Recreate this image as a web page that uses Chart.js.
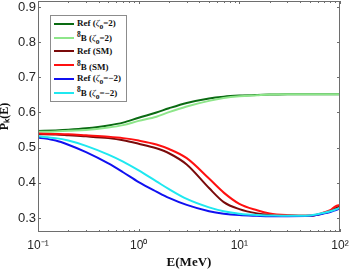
<!DOCTYPE html>
<html>
<head>
<meta charset="utf-8">
<script src="https://cdn.jsdelivr.net/npm/chart.js@4/dist/chart.umd.min.js"></script>
<style>
  html, body { margin: 0; padding: 0; background: #fff; }
  #wrap { position: relative; width: 350px; height: 270px; }
  #legendBox {
    position: absolute; left: 50px; top: 15px; width: 77px; height: 87px;
    border: 1px solid #8c8c8c; background: #fff; box-sizing: border-box;
    font-family: 'Liberation Serif', serif; font-size: 9px; color: #111; padding-top: 1px;
  }
  .row { height: 13.8px; display: flex; align-items: center; white-space: nowrap; font-weight: bold; }
  .swatch { width: 20px; height: 2px; margin-left: 3px; margin-right: 3px; flex: none; }
  .row i { font-weight: normal; }
</style>
</head>
<body>
<div id="wrap">
  <canvas id="chart" width="350" height="270"></canvas>
  <div id="legendBox"></div>
</div>
<script>
const energy = [0.1, 0.15, 0.2, 0.3, 0.5, 0.7, 1, 1.5, 2, 3, 5, 7, 10, 15, 20, 30, 50, 70, 80, 90, 100];

const refPlus  = [0.547, 0.549, 0.551, 0.555, 0.563, 0.571, 0.585, 0.600, 0.612, 0.627, 0.640, 0.645, 0.648, 0.650, 0.651, 0.652, 0.652, 0.652, 0.652, 0.652, 0.652];
const b8Plus   = [0.545, 0.546, 0.548, 0.550, 0.557, 0.564, 0.576, 0.588, 0.601, 0.617, 0.633, 0.641, 0.646, 0.649, 0.651, 0.652, 0.652, 0.652, 0.652, 0.652, 0.652];
const refSM    = [0.538, 0.537, 0.535, 0.532, 0.527, 0.521, 0.511, 0.498, 0.484, 0.452, 0.385, 0.345, 0.325, 0.313, 0.309, 0.307, 0.306, 0.314, 0.319, 0.327, 0.334];
const b8SM     = [0.540, 0.539, 0.538, 0.535, 0.531, 0.527, 0.520, 0.509, 0.496, 0.470, 0.412, 0.372, 0.340, 0.322, 0.313, 0.308, 0.306, 0.316, 0.322, 0.333, 0.337];
const refMinus = [0.529, 0.520, 0.508, 0.487, 0.455, 0.430, 0.402, 0.375, 0.357, 0.337, 0.319, 0.312, 0.308, 0.306, 0.305, 0.305, 0.306, 0.313, 0.317, 0.322, 0.327];
const b8Minus  = [0.532, 0.527, 0.520, 0.505, 0.480, 0.460, 0.435, 0.404, 0.382, 0.354, 0.330, 0.319, 0.312, 0.308, 0.307, 0.306, 0.307, 0.315, 0.319, 0.324, 0.329];

const seriesNames = ['Ref (<i>ζ</i><sub>o</sub>=2)', '<sup>8</sup>B (<i>ζ</i><sub>o</sub>=2)', 'Ref (SM)', '<sup>8</sup>B (SM)', 'Ref (<i>ζ</i><sub>o</sub>=−2)', '<sup>8</sup>B (<i>ζ</i><sub>o</sub>=−2)'];
const seriesValues = [refPlus, b8Plus, refSM, b8SM, refMinus, b8Minus];
const seriesColors = ['#0a6b12', '#8ee68a', '#7a0a0a', '#ff1010', '#1010f0', '#1fe8f0'];

const xTicks = [0.1, 1, 10, 100];
const xTickLabels = ['10⁻¹', '10⁰', '10¹', '10²'];
const yTicks = [0.3, 0.4, 0.5, 0.6, 0.7, 0.8, 0.9];

const axisColor = '#6e6e6e';

// frame + inward MATLAB-style tick marks
const framePlugin = {
  id: 'frame',
  afterDatasetsDraw(chart) {
    const { ctx, chartArea: a, scales: { x, y } } = chart;
    ctx.save();
    ctx.strokeStyle = axisColor;
    ctx.lineWidth = 1;
    ctx.strokeRect(a.left + 0.5, a.top + 0.5, a.width - 1, a.height - 1);
    ctx.beginPath();
    yTicks.forEach(v => {
      const py = Math.round(y.getPixelForValue(v)) + 0.5;
      ctx.moveTo(a.left, py); ctx.lineTo(a.left + 3, py);
      ctx.moveTo(a.right, py); ctx.lineTo(a.right - 3, py);
    });
    xTicks.forEach(v => {
      const px = Math.round(x.getPixelForValue(v)) + 0.5;
      ctx.moveTo(px, a.bottom); ctx.lineTo(px, a.bottom - 3);
      ctx.moveTo(px, a.top); ctx.lineTo(px, a.top + 3);
    });
    [0.1, 1, 10].forEach(d => {
      for (let m = 2; m < 10; m++) {
        const px = Math.round(x.getPixelForValue(d * m)) + 0.5;
        ctx.moveTo(px, a.bottom); ctx.lineTo(px, a.bottom - 2);
        ctx.moveTo(px, a.top); ctx.lineTo(px, a.top + 2);
      }
    });
    ctx.stroke();
    ctx.restore();
  }
};

const datasets = seriesValues.map((vals, i) => ({
  label: seriesNames[i].replace(/<[^>]+>/g, ''),
  data: energy.map((e, k) => ({ x: e, y: vals[k] })),
  borderColor: seriesColors[i],
  backgroundColor: seriesColors[i],
  borderWidth: 2,
  pointRadius: 0,
  showLine: true,
  cubicInterpolationMode: 'monotone',
  order: 10 - i
}));

new Chart(document.getElementById('chart'), {
  type: 'scatter',
  data: { datasets },
  options: {
    responsive: false,
    devicePixelRatio: 1,
    animation: false,
    layout: { padding: { left: 0, right: 10, top: 1, bottom: 0 } },
    plugins: { legend: { display: false }, tooltip: { enabled: false } },
    scales: {
      x: {
        type: 'logarithmic',
        min: 0.1,
        max: 100,
        grid: { display: false, drawTicks: false },
        border: { display: false },
        afterBuildTicks: s => { s.ticks = xTicks.map(v => ({ value: v, major: true })); },
        afterFit: s => { s.height = 38; s.paddingLeft = 0; s.paddingRight = 0; },
        ticks: {
          maxRotation: 0,
          autoSkip: false,
          padding: 6,
          color: '#262626',
          font: { family: 'Liberation Sans', size: 12 },
          callback: v => xTickLabels[xTicks.indexOf(v)]
        },
        title: {
          display: true,
          text: 'E(MeV)',
          color: '#111',
          padding: 0,
          font: { family: 'Liberation Serif', size: 13, weight: 'bold', lineHeight: 1.1 }
        }
      },
      y: {
        min: 0.26,
        max: 0.917,
        grid: { display: false, drawTicks: false },
        border: { display: false },
        afterBuildTicks: s => { s.ticks = yTicks.map(v => ({ value: v })); },
        afterFit: s => { s.width = 38; s.paddingTop = 0; s.paddingBottom = 0; },
        ticks: {
          padding: 2,
          color: '#262626',
          font: { family: 'Liberation Sans', size: 13 },
          callback: v => v.toFixed(1)
        },
        title: {
          display: true,
          text: 'Pₖ(E)',
          color: '#111',
          padding: 0,
          font: { family: 'Liberation Serif', size: 12, weight: 'bold', lineHeight: 0.8 }
        }
      }
    }
  },
  plugins: [framePlugin]
});

// legend box drawn as real text in the top-left of the plot
const legendBox = document.getElementById('legendBox');
seriesNames.forEach((name, i) => {
  const row = document.createElement('div');
  row.className = 'row';
  row.innerHTML = '<span class="swatch" style="background:' + seriesColors[i] + '"></span>' +
    '<span>' + name + '</span>';
  legendBox.appendChild(row);
});
</script>
</body>
</html>
